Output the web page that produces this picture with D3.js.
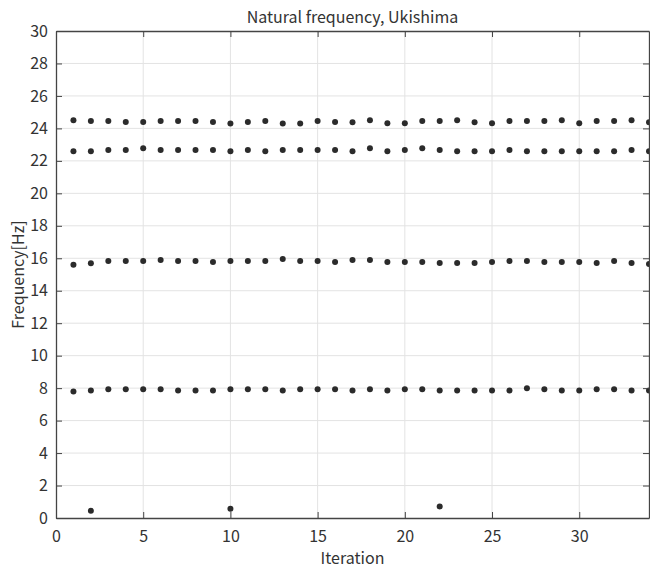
<!DOCTYPE html>
<html>
<head>
<meta charset="utf-8">
<script src="https://cdn.jsdelivr.net/npm/d3@7"></script>
<style>
  body { margin: 0; background: #fff; }
  text { font-family: "Noto Sans CJK JP", "DejaVu Sans", sans-serif; fill: #333; }
</style>
</head>
<body>
<div id="chart"></div>
<script>
// iteration numbers 1..34
var iterations = [1,2,3,4,5,6,7,8,9,10,11,12,13,14,15,16,17,18,19,20,21,22,23,24,25,26,27,28,29,30,31,32,33,34]

// natural frequencies [Hz] per mode
var mode5 = [24.5,24.45,24.45,24.4,24.4,24.45,24.45,24.45,24.4,24.3,24.4,24.45,24.3,24.3,24.45,24.4,
             24.38,24.5,24.32,24.32,24.45,24.45,24.5,24.38,24.32,24.45,24.45,24.45,24.5,24.32,24.45,24.45,24.5,24.38]
var mode4 = [22.6,22.6,22.67,22.67,22.78,22.67,22.67,22.67,22.67,22.6,22.67,22.6,22.67,22.67,22.67,22.67,
             22.6,22.78,22.6,22.67,22.78,22.67,22.6,22.6,22.6,22.67,22.6,22.6,22.6,22.6,22.6,22.6,22.67,22.6]
var mode3 = [15.6,15.7,15.83,15.83,15.83,15.9,15.83,15.83,15.77,15.83,15.83,15.83,15.96,15.83,15.83,15.77,
             15.9,15.9,15.77,15.77,15.77,15.71,15.71,15.71,15.77,15.83,15.83,15.77,15.77,15.77,15.71,15.83,15.71,15.65]
var mode2 = [7.8,7.85,7.93,7.93,7.93,7.93,7.85,7.85,7.85,7.93,7.93,7.93,7.85,7.93,7.93,7.93,
             7.85,7.93,7.85,7.93,7.93,7.85,7.85,7.85,7.85,7.85,8.0,7.93,7.85,7.85,7.93,7.93,7.85,7.85]
// low mode only found in a few iterations
var mode1Iter = [2, 10, 22]
var mode1 = [0.44, 0.57, 0.71]

var xTicks = [0,5,10,15,20,25,30]
var yTicks = d3.range(0, 31, 2)

var W = 650, H = 569
var margin = {top: 31, right: 1, bottom: 51, left: 56}
var width = W - margin.left - margin.right
var height = H - margin.top - margin.bottom

var svg = d3.select("#chart")
  .append("svg")
  .attr("width", W)
  .attr("height", H)

var g = svg.append("g")
  .attr("transform", "translate(" + margin.left + "," + margin.top + ")")

var x = d3.scaleLinear().domain([0, 34]).range([0, width])
var y = d3.scaleLinear().domain([0, 30]).range([height, 0])

// grid
g.append("g")
  .selectAll("line")
  .data(xTicks.slice(1))
  .enter().append("line")
  .attr("x1", d => x(d)).attr("x2", d => x(d))
  .attr("y1", 0).attr("y2", height)
  .attr("stroke", "#e3e3e3")
g.append("g")
  .selectAll("line")
  .data(yTicks.slice(1, -1))
  .enter().append("line")
  .attr("x1", 0).attr("x2", width)
  .attr("y1", d => y(d)).attr("y2", d => y(d))
  .attr("stroke", "#e3e3e3")

// points
var series = [mode5, mode4, mode3, mode2]
series.forEach(function(s) {
  g.append("g")
    .selectAll("circle")
    .data(s)
    .enter().append("circle")
    .attr("cx", (d, i) => x(iterations[i]))
    .attr("cy", d => y(d))
    .attr("r", 3)
    .attr("fill", "#2b2b2b")
})
g.append("g")
  .selectAll("circle")
  .data(mode1)
  .enter().append("circle")
  .attr("cx", (d, i) => x(mode1Iter[i]))
  .attr("cy", d => y(d))
  .attr("r", 3)
  .attr("fill", "#2b2b2b")

// axes, ticks inward like matlab box
var tickLen = 6
g.append("g")
  .attr("class", "axis")
  .attr("transform", "translate(0," + height + ")")
  .call(d3.axisBottom(x).tickValues(xTicks).tickSizeInner(-tickLen).tickSizeOuter(0).tickPadding(13))
g.append("g")
  .attr("class", "axis")
  .call(d3.axisLeft(y).tickValues(yTicks).tickSizeInner(-tickLen).tickSizeOuter(0).tickPadding(8))
g.append("g")
  .attr("class", "axis")
  .call(d3.axisTop(x).tickValues(xTicks).tickSizeInner(-tickLen).tickSizeOuter(0).tickFormat(""))
g.append("g")
  .attr("class", "axis")
  .attr("transform", "translate(" + width + ",0)")
  .call(d3.axisRight(y).tickValues(yTicks).tickSizeInner(-tickLen).tickSizeOuter(0).tickFormat(""))

g.selectAll(".axis path").attr("stroke", "#444").attr("stroke-width", 1.3)
g.selectAll(".axis line").attr("stroke", "#444")
g.selectAll(".axis text")
  .style("font-size", "16px")
  .style("font-family", "'Noto Sans CJK JP', sans-serif")
  .attr("fill", "#3a3a3a")

// labels
g.append("text")
  .attr("x", width / 2)
  .attr("y", -8)
  .attr("text-anchor", "middle")
  .style("font-size", "16px")
  .text("Natural frequency, Ukishima")

g.append("text")
  .attr("x", width / 2)
  .attr("y", height + 46)
  .attr("text-anchor", "middle")
  .style("font-size", "16px")
  .text("Iteration")

g.append("text")
  .attr("transform", "translate(" + (-32) + "," + (height / 2) + ") rotate(-90)")
  .attr("text-anchor", "middle")
  .style("font-size", "16px")
  .text("Frequency[Hz]")
</script>
</body>
</html>
